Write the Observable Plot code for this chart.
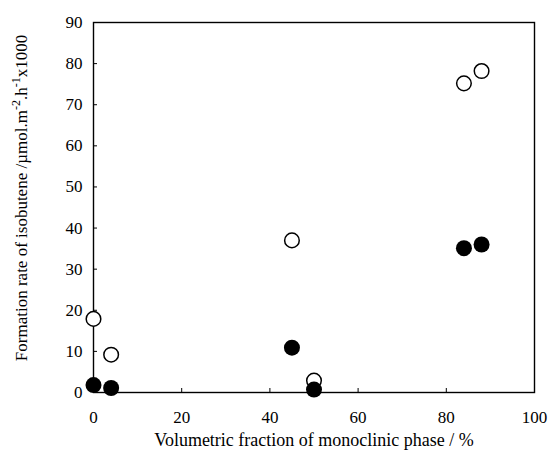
<!DOCTYPE html>
<html>
<head>
<meta charset="utf-8">
<script src="https://cdn.jsdelivr.net/npm/d3@7"></script>
<script src="https://cdn.jsdelivr.net/npm/@observablehq/plot@0.6"></script>
<style>
  html, body { margin: 0; padding: 0; background: #fff; }
  svg text, svg tspan { font-family: "Liberation Serif", "Times New Roman", serif !important; }
</style>
</head>
<body>
<div id="chart"></div>
<script>
// Open circles
const openX = [0, 4, 45, 50, 84, 88];
const openY = [17.9, 9.2, 37, 2.9, 75.2, 78.2];
// Filled circles
const filledX = [0, 4, 45, 50, 84, 88];
const filledY = [1.8, 1.1, 10.9, 0.7, 35.1, 36];

const xTicks = [0, 20, 40, 60, 80, 100];
const yTicks = [0, 10, 20, 30, 40, 50, 60, 70, 80, 90];

const openData = openX.map((x, i) => ({x, y: openY[i]}));
const filledData = filledX.map((x, i) => ({x, y: filledY[i]}));

const FONT = "Liberation Serif";

const plot = Plot.plot({
  width: 550,
  height: 454,
  marginLeft: 93,
  marginRight: 16,
  marginTop: 22,
  marginBottom: 62,
  style: {fontFamily: FONT, fontSize: "17px", color: "#000", background: "#fff"},
  x: {domain: [0, 100], ticks: xTicks},
  y: {domain: [0, 90], ticks: yTicks},
  marks: [
    Plot.axisX({ticks: xTicks, tickSize: -4, tickPadding: 22, label: null, fontSize: 17, fontFamily: FONT, tickFormat: d => String(d)}),
    Plot.axisY({ticks: yTicks, tickSize: -4, tickPadding: 15, label: null, fontSize: 17, fontFamily: FONT, tickFormat: d => String(d)}),
    Plot.frame({stroke: "#000", strokeWidth: 1.4}),
    Plot.dot(openData, {x: "x", y: "y", r: 7.3, fill: "#fff", stroke: "#000", strokeWidth: 1.5}),
    Plot.dot(filledData, {x: "x", y: "y", r: 8, fill: "#000", stroke: "none"})
  ]
});

const svg = d3.select(plot);
// x axis label
svg.append("text")
  .attr("x", 314)
  .attr("y", 446)
  .attr("text-anchor", "middle")
  .attr("font-size", 18)
  .attr("font-family", FONT)
  .attr("fill", "#000")
  .text("Volumetric fraction of monoclinic phase / %");

// y axis label with superscripts
const yl = svg.append("text")
  .attr("transform", "translate(27,198) rotate(-90)")
  .attr("text-anchor", "middle")
  .attr("font-size", 17)
  .attr("font-family", FONT)
  .attr("fill", "#000");
yl.append("tspan").text("Formation rate of isobutene /µmol.m");
yl.append("tspan").attr("dy", -7).attr("font-size", 12).text("-2");
yl.append("tspan").attr("dy", 7).text(".h");
yl.append("tspan").attr("dy", -7).attr("font-size", 12).text("-1");
yl.append("tspan").attr("dy", 7).text("x1000");

document.getElementById("chart").appendChild(plot);
</script>
</body>
</html>
